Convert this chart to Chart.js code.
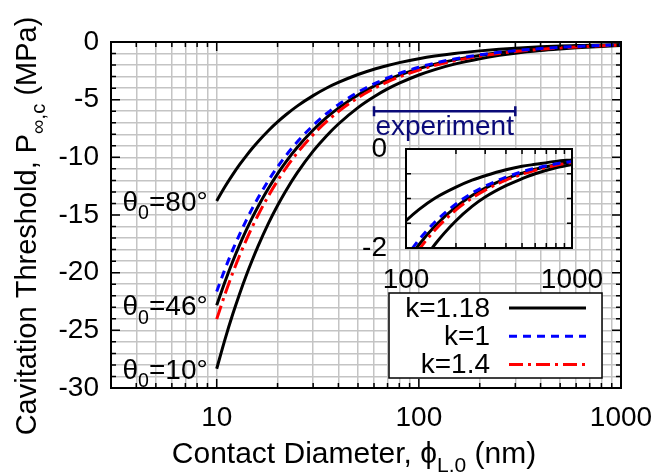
<!DOCTYPE html>
<html>
<head>
<meta charset="utf-8">
<script src="https://cdn.jsdelivr.net/npm/chart.js@4.4.0/dist/chart.umd.min.js"></script>
<style>
  html, body { margin: 0; padding: 0; background: #fff; }
  #wrap { position: relative; width: 671px; height: 475px; }
  #main { position: absolute; left: 0; top: 0; }
  #inset { position: absolute; left: 340px; top: 104px; }
</style>
</head>
<body>
<div id="wrap">
  <canvas id="main" width="671" height="475"></canvas>
  <canvas id="inset" width="280" height="186"></canvas>
</div>
<script>
// Contact diameter (nm)
const diameters = [10, 11, 12, 13, 14, 15, 16, 18, 20, 22, 25, 30, 35, 40, 50, 60, 70, 80, 100, 120, 150, 200, 250, 300, 400, 500, 600, 800, 1000];

// Cavitation threshold (MPa)
const theta80k118 = [-13.78, -12.53, -11.50, -10.62, -9.87, -9.21, -8.64, -7.69, -6.93, -6.31, -5.56, -4.65, -3.99, -3.51, -2.82, -2.36, -2.04, -1.79, -1.45, -1.22, -0.99, -0.77, -0.63, -0.54, -0.42, -0.35, -0.31, -0.25, -0.22];
const theta46k118 = [-22.83, -20.76, -19.03, -17.57, -16.32, -15.23, -14.28, -12.70, -11.43, -10.39, -9.15, -7.63, -6.54, -5.73, -4.59, -3.83, -3.29, -2.88, -2.31, -1.93, -1.55, -1.17, -0.94, -0.79, -0.60, -0.49, -0.41, -0.32, -0.26];
const theta46k1 = [-21.63, -19.67, -18.03, -16.65, -15.46, -14.43, -13.53, -12.03, -10.83, -9.85, -8.67, -7.23, -6.20, -5.43, -4.35, -3.63, -3.12, -2.73, -2.19, -1.83, -1.47, -1.11, -0.89, -0.75, -0.57, -0.46, -0.39, -0.30, -0.25];
const theta46k14 = [-24.03, -21.85, -20.03, -18.49, -17.17, -16.03, -15.03, -13.36, -12.03, -10.94, -9.63, -8.03, -6.89, -6.03, -4.83, -4.03, -3.46, -3.03, -2.43, -2.03, -1.63, -1.23, -0.99, -0.83, -0.63, -0.51, -0.43, -0.33, -0.27];
const theta10k118 = [-28.33, -25.76, -23.61, -21.80, -20.24, -18.90, -17.72, -15.75, -14.18, -12.89, -11.35, -9.46, -8.12, -7.11, -5.69, -4.75, -4.07, -3.57, -2.86, -2.39, -1.92, -1.45, -1.16, -0.97, -0.74, -0.60, -0.50, -0.38, -0.31];

const seriesLabels = ['k=1.18', 'k=1', 'k=1.4'];
const thetaLabels = ['80', '46', '10'];

// Experimental range of diameters (nm) and the level it is drawn at (MPa)
const experimentRange = [60, 300];
const experimentLevel = -6;

// Axis ticks
const xTickValues = [3, 4, 5, 6, 7, 8, 9, 10, 20, 30, 40, 50, 60, 70, 80, 90, 100, 200, 300, 400, 500, 600, 700, 800, 900, 1000];
const xLabelValues = [10, 100, 1000];
const yLabelValues = [-30, -25, -20, -15, -10, -5, 0];
const insetXTicks = [100, 200, 300, 400, 500, 600, 700, 800, 900, 1000];
const insetXLabels = [100, 1000];
const insetYTicks = [-2, -1.5, -1, -0.5, 0];
const insetYLabels = [-2, 0];

const FONT = '"Liberation Sans", Arial, sans-serif';
const FS = 28;
const GRID = '#c4c4c4';
const NAVY = '#0a0a78';

const yTickValues = [];
for (let v = -30; v <= 0; v++) yTickValues.push(v);

function curve(values) {
    return diameters.map((d, i) => ({ x: d, y: values[i] }));
}

// dataset 0 is drawn on top
function buildDatasets(width) {
    const base = { pointRadius: 0, fill: false, cubicInterpolationMode: 'monotone', borderWidth: width };
    return [
        { ...base, label: 'k=1', data: curve(theta46k1), borderColor: '#0000ff', borderDash: [8, 6] },
        { ...base, label: 'k=1.4', data: curve(theta46k14), borderColor: '#ff0000', borderDash: [14, 5, 3, 5] },
        { ...base, label: 'k=1.18', data: curve(theta46k118), borderColor: '#000' },
        { ...base, label: 'k=1.18', data: curve(theta80k118), borderColor: '#000' },
        { ...base, label: 'k=1.18', data: curve(theta10k118), borderColor: '#000' }
    ];
}

function richWidth(ctx, parts, size) {
    let w = 0;
    parts.forEach(p => {
        ctx.font = (p.sub ? size * 0.7 : size) + 'px ' + FONT;
        w += ctx.measureText(p.t).width;
    });
    return w;
}

// text with subscripts, y is the baseline
function drawRich(ctx, parts, x, y, size, align) {
    const w = richWidth(ctx, parts, size);
    let cx = align === 'right' ? x - w : align === 'center' ? x - w / 2 : x;
    ctx.textAlign = 'left';
    ctx.textBaseline = 'alphabetic';
    parts.forEach(p => {
        const s = p.sub ? size * 0.7 : size;
        ctx.font = s + 'px ' + FONT;
        ctx.fillText(p.t, cx, p.sub ? y + size * 0.3 : y);
        cx += ctx.measureText(p.t).width;
    });
}

// gnuplot-like frame with inward ticks
function drawFrame(chart, xTicks, yTicks, isMajorX, isMajorY) {
    const ctx = chart.ctx;
    const a = chart.chartArea;
    const xs = chart.scales.x, ys = chart.scales.y;
    ctx.save();
    ctx.strokeStyle = '#000';
    ctx.lineWidth = 1.5;
    ctx.beginPath();
    xTicks.forEach(v => {
        const px = xs.getPixelForValue(v);
        const len = isMajorX(v) ? 9 : 5;
        ctx.moveTo(px, a.bottom); ctx.lineTo(px, a.bottom - len);
        ctx.moveTo(px, a.top); ctx.lineTo(px, a.top + len);
    });
    yTicks.forEach(v => {
        const py = ys.getPixelForValue(v);
        const len = isMajorY(v) ? 9 : 5;
        ctx.moveTo(a.left, py); ctx.lineTo(a.left + len, py);
        ctx.moveTo(a.right, py); ctx.lineTo(a.right - len, py);
    });
    ctx.stroke();
    ctx.lineWidth = 2;
    ctx.strokeRect(a.left, a.top, a.right - a.left, a.bottom - a.top);
    ctx.restore();
}

const mainDecor = {
    id: 'mainDecor',
    afterDraw(chart) {
        const ctx = chart.ctx;
        const xs = chart.scales.x, ys = chart.scales.y;
        drawFrame(chart, xTickValues, yTickValues,
            v => xLabelValues.includes(v), v => v % 5 === 0);

        ctx.save();
        ctx.fillStyle = '#000';

        // contact angle labels at the start of each curve
        const starts = [theta80k118[0], theta46k118[0], theta10k118[0]];
        thetaLabels.forEach((t, i) => {
            drawRich(ctx, [{ t: 'θ' }, { t: '0', sub: true }, { t: '=' + t + '°' }],
                xs.getPixelForValue(diameters[0]) - 9, ys.getPixelForValue(starts[i]) + 10, FS, 'right');
        });

        // experiment range bar
        const x1 = xs.getPixelForValue(experimentRange[0]);
        const x2 = xs.getPixelForValue(experimentRange[1]);
        const ey = ys.getPixelForValue(experimentLevel);
        ctx.strokeStyle = NAVY;
        ctx.lineWidth = 2.5;
        ctx.beginPath();
        ctx.moveTo(x1, ey); ctx.lineTo(x2, ey);
        ctx.moveTo(x1, ey - 5); ctx.lineTo(x1, ey + 5);
        ctx.moveTo(x2, ey - 5); ctx.lineTo(x2, ey + 5);
        ctx.stroke();
        ctx.fillStyle = NAVY;
        drawRich(ctx, [{ t: 'experiment' }], (x1 + x2) / 2, ey + 24, FS, 'center');

        // legend
        const lx = 389, ly = 293, lw = 213, lh = 85;
        ctx.fillStyle = '#fff';
        ctx.fillRect(lx, ly, lw, lh);
        ctx.strokeStyle = '#000';
        ctx.lineWidth = 1.5;
        ctx.strokeRect(lx, ly, lw, lh);
        const styles = [
            { color: '#000', dash: [] },
            { color: '#0000ff', dash: [8, 6] },
            { color: '#ff0000', dash: [14, 5, 3, 5] }
        ];
        seriesLabels.forEach((lab, i) => {
            const ry = ly + 15 + i * 28.3;
            ctx.fillStyle = '#000';
            ctx.font = FS + 'px ' + FONT;
            ctx.textAlign = 'right';
            ctx.textBaseline = 'middle';
            ctx.fillText(lab, lx + 101, ry + 1);
            ctx.strokeStyle = styles[i].color;
            ctx.setLineDash(styles[i].dash);
            ctx.lineWidth = 3;
            ctx.beginPath();
            ctx.moveTo(lx + 120, ry); ctx.lineTo(lx + 197, ry);
            ctx.stroke();
        });
        ctx.setLineDash([]);

        // axis titles
        ctx.fillStyle = '#000';
        drawRich(ctx, [{ t: 'Contact Diameter, ϕ' }, { t: 'L.0', sub: true }, { t: ' (nm)' }],
            354, 463, 30, 'center');
        ctx.translate(26, 226);
        ctx.rotate(-Math.PI / 2);
        drawRich(ctx, [{ t: 'Cavitation Threshold, P' }, { t: '∞,c', sub: true }, { t: ' (MPa)' }],
            0, 10, 29, 'center');
        ctx.restore();
    }
};

const insetDecor = {
    id: 'insetDecor',
    beforeDraw(chart) {
        const a = chart.chartArea;
        chart.ctx.save();
        chart.ctx.fillStyle = '#fff';
        chart.ctx.fillRect(a.left, a.top, a.right - a.left, a.bottom - a.top);
        chart.ctx.restore();
    },
    afterDraw(chart) {
        drawFrame(chart, insetXTicks, insetYTicks,
            v => insetXLabels.includes(v), v => insetYLabels.includes(v));
    }
};

function tickFont() {
    return { family: FONT, size: FS };
}

new Chart(document.getElementById('main'), {
    type: 'line',
    data: { datasets: buildDatasets(3) },
    options: {
        responsive: false,
        animation: false,
        devicePixelRatio: 1,
        events: [],
        layout: { padding: { left: 0, right: 50, top: 42, bottom: 0 } },
        plugins: { legend: { display: false }, tooltip: { enabled: false } },
        scales: {
            x: {
                type: 'logarithmic',
                min: 3,
                max: 1000,
                afterBuildTicks: s => { s.ticks = xTickValues.map(v => ({ value: v })); },
                afterFit: s => { s.height = 87; },
                grid: { color: GRID, lineWidth: 1.5, drawTicks: false },
                border: { display: false },
                ticks: {
                    autoSkip: false, maxRotation: 0, minRotation: 0, padding: 13,
                    color: '#000', font: tickFont(),
                    callback: v => xLabelValues.includes(v) ? String(v) : ''
                }
            },
            y: {
                type: 'linear',
                min: -30,
                max: 0,
                afterBuildTicks: s => { s.ticks = yTickValues.map(v => ({ value: v })); },
                afterFit: s => { s.width = 111; },
                grid: { color: GRID, lineWidth: 1.5, drawTicks: false },
                border: { display: false },
                ticks: {
                    autoSkip: false, padding: 12, color: '#000', font: tickFont(),
                    callback: v => yLabelValues.includes(v) ? String(v) : ''
                }
            }
        }
    },
    plugins: [mainDecor]
});

new Chart(document.getElementById('inset'), {
    type: 'line',
    data: { datasets: buildDatasets(3) },
    options: {
        responsive: false,
        animation: false,
        devicePixelRatio: 1,
        events: [],
        layout: { padding: { left: 0, right: 48, top: 45, bottom: 0 } },
        plugins: { legend: { display: false }, tooltip: { enabled: false } },
        scales: {
            x: {
                type: 'logarithmic',
                min: 100,
                max: 1000,
                afterBuildTicks: s => { s.ticks = insetXTicks.map(v => ({ value: v })); },
                afterFit: s => { s.height = 42; },
                grid: { color: GRID, lineWidth: 1.5, drawTicks: false },
                border: { display: false },
                ticks: {
                    autoSkip: false, maxRotation: 0, minRotation: 0, padding: 15,
                    color: '#000', font: tickFont(),
                    callback: v => insetXLabels.includes(v) ? String(v) : ''
                }
            },
            y: {
                type: 'linear',
                min: -2,
                max: 0,
                afterBuildTicks: s => { s.ticks = insetYTicks.map(v => ({ value: v })); },
                afterFit: s => { s.width = 66; },
                grid: { color: GRID, lineWidth: 1.5, drawTicks: false },
                border: { display: false },
                ticks: {
                    autoSkip: false, padding: 19, color: '#000', font: tickFont(),
                    callback: v => insetYLabels.includes(v) ? String(v) : ''
                }
            }
        }
    },
    plugins: [insetDecor]
});
</script>
</body>
</html>
